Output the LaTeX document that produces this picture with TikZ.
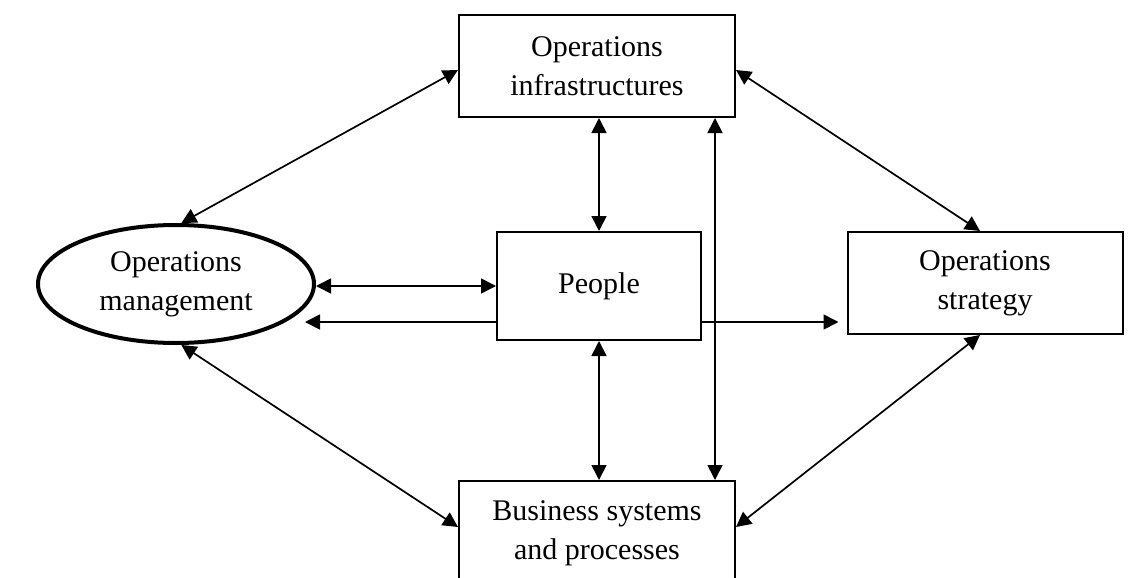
\documentclass[tikz,border=0pt]{standalone}
\usepackage{fontspec}
\setmainfont{Liberation Serif}
\usetikzlibrary{arrows.meta,calc,shapes.geometric}
\begin{document}
\begin{tikzpicture}[x=1pt,y=-1pt,
  lbl/.style={align=center,font=\fontsize{30}{39}\selectfont},
  box/.style={lbl,draw,line width=2pt,minimum width=276pt,minimum height=102pt,inner sep=0pt},
  conn/.style={line width=1.7pt,{Triangle[length=15pt,width=15pt]}-{Triangle[length=15pt,width=15pt]}},
  one/.style={line width=1.7pt,-{Triangle[length=15pt,width=15pt]}}]
\useasboundingbox (0,0) rectangle (1143,578);
\clip (0,0) rectangle (1143,578);
\node[box] (infra) at (597,66) {Operations\\infrastructures};
\node[box,minimum width=204pt,minimum height=108pt] (ppl) at (599,286) {People};
\node[box,minimum height=104pt] (bus) at (597,533) {Business systems\\and processes};
\node[box,minimum width=275pt] (strat) at (985,283) {Operations\\strategy};
\node[lbl,ellipse,draw,line width=4pt,minimum width=276pt,minimum height=118pt,inner sep=0pt] (ell) at (176,284) {Operations\\management};
\coordinate (lowy) at (0,322);
\coordinate (pmtip) at (305,322);
% diagonal links
\draw[conn] (ell.85) -- ($(infra.west)+(0,4)$);
\draw[conn] (ell.-85) -- ($(bus.west)+(0,-6)$);
\draw[conn] ($(infra.east)+(0,4)$) -- ($(strat.north)+(-5,0)$);
\draw[conn] ($(bus.east)+(0,-6)$) -- ($(strat.south)+(-5,0)$);
% horizontal links
\draw[conn] (ppl.west -| ell.east) -- (ppl.west);
\draw[one] (ppl.west |- lowy) -- (pmtip);
\draw[one,shorten >=8pt] (ppl.east |- lowy) -- (strat.west |- lowy);
% vertical links
\draw[conn] (ppl.north |- infra.south) -- (ppl.north);
\draw[conn] (ppl.south) -- (ppl.south |- bus.north);
\draw[conn] ($(infra.south east)+(-21,0)$) -- ($(bus.north east)+(-21,0)$);
\end{tikzpicture}
\end{document}
